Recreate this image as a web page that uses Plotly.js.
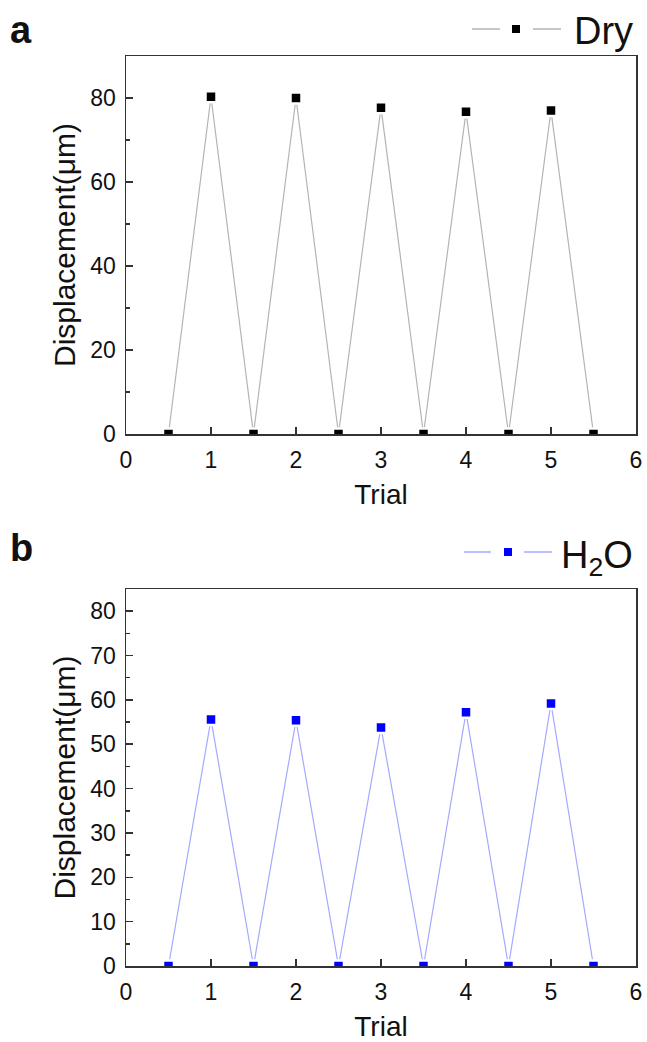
<!DOCTYPE html>
<html>
<head>
<meta charset="utf-8">
<script src="https://cdn.plot.ly/plotly-3.0.1.min.js"></script>
<style>html,body{margin:0;padding:0;background:#fff;}#chart{width:647px;height:1042px;}</style>
</head>
<body>
<div id="chart"></div>
<script>
// ---- data ----
const trialX = [0.5, 1, 1.5, 2, 2.5, 3, 3.5, 4, 4.5, 5, 5.5];
const dryDisp = [0, 80.3, 0, 80.0, 0, 77.7, 0, 76.7, 0, 77.0, 0];
const waterDisp = [0, 55.6, 0, 55.4, 0, 53.8, 0, 57.2, 0, 59.2, 0];
const seriesNames = ["Dry", "H<sub>2</sub>O"];
const panelLabels = ["a", "b"];
const xTitle = "Trial";
const yTitle = "Displacement(\u03bcm)";

// ---- layout helpers ----
const W = 647, H = 1042;
const px = v => v / W;
const py = v => 1 - v / H;
const FONT = '"Liberation Sans", Arial, sans-serif';
const AX = '#333333';

function xAxis(anchor) {
  return {
    domain: [px(126), px(636)], range: [0, 6], dtick: 1, tick0: 0,
    ticks: 'inside', ticklen: 7, tickwidth: 1.5, tickcolor: AX,
    showline: true, linecolor: AX, linewidth: 1.5, mirror: true,
    showgrid: false, zeroline: false, anchor: anchor, fixedrange: true,
    tickfont: {family: FONT, size: 23, color: '#111'},
    ticklabelstandoff: 5,
    title: {text: xTitle, font: {family: FONT, size: 28, color: '#111'}, standoff: 12}
  };
}
function yAxis(dom, maxv, dt, anchor) {
  return {
    domain: dom, range: [0, maxv], dtick: dt, tick0: 0,
    ticks: 'inside', ticklen: 7, tickwidth: 1.5, tickcolor: AX,
    minor: {dtick: dt / 2, ticks: 'inside', ticklen: 4, tickwidth: 1.5, tickcolor: AX, showgrid: false},
    showline: true, linecolor: AX, linewidth: 1.5, mirror: true,
    showgrid: false, zeroline: false, anchor: anchor, fixedrange: true,
    tickfont: {family: FONT, size: 23, color: '#111'},
    ticklabelstandoff: 4,
    title: {text: yTitle, font: {family: FONT, size: 30, color: '#111'}, standoff: 6}
  };
}

const traces = [
  {x: trialX, y: dryDisp, name: seriesNames[0], xaxis: 'x', yaxis: 'y', mode: 'lines+markers',
   line: {color: '#b4b4b4', width: 1.2},
   marker: {symbol: 'square', size: 11, color: '#000', line: {color: '#fff', width: 2.5}}},
  {x: trialX, y: waterDisp, name: seriesNames[1], xaxis: 'x2', yaxis: 'y2', mode: 'lines+markers',
   line: {color: '#a4aaff', width: 1.2},
   marker: {symbol: 'square', size: 11, color: '#0000ff', line: {color: '#fff', width: 2.5}}}
];

function legendShapes(l1a, l1b, mx, l2a, l2b, ly, lineCol, markCol) {
  return [
    {type: 'line', xref: 'paper', yref: 'paper', x0: px(l1a), x1: px(l1b), y0: py(ly), y1: py(ly), line: {color: lineCol, width: 1.5}},
    {type: 'rect', xref: 'paper', yref: 'paper', x0: px(mx - 4), x1: px(mx + 4), y0: py(ly + 4), y1: py(ly - 4), fillcolor: markCol, line: {width: 0}},
    {type: 'line', xref: 'paper', yref: 'paper', x0: px(l2a), x1: px(l2b), y0: py(ly), y1: py(ly), line: {color: lineCol, width: 1.5}}
  ];
}

const shapes = [].concat(
  legendShapes(472, 500, 516, 533, 561, 29, '#b4b4b4', '#000'),
  legendShapes(464, 491, 508, 524, 552, 552, '#a4aaff', '#0000ff')
);

const annotations = [
  {text: seriesNames[0], xref: 'paper', yref: 'paper', x: px(572), y: py(31), xanchor: 'left', yanchor: 'middle', showarrow: false, font: {family: FONT, size: 38, color: '#111'}},
  {text: seriesNames[1], xref: 'paper', yref: 'paper', x: px(559), y: py(558), xanchor: 'left', yanchor: 'middle', showarrow: false, font: {family: FONT, size: 38, color: '#111'}},
  {text: '<b>' + panelLabels[0] + '</b>', xref: 'paper', yref: 'paper', x: px(8), y: py(30), xanchor: 'left', yanchor: 'middle', showarrow: false, font: {family: FONT, size: 38, color: '#111'}},
  {text: '<b>' + panelLabels[1] + '</b>', xref: 'paper', yref: 'paper', x: px(8), y: py(548), xanchor: 'left', yanchor: 'middle', showarrow: false, font: {family: FONT, size: 38, color: '#111'}}
];

const layout = {
  width: W, height: H,
  margin: {l: 0, r: 0, t: 0, b: 0},
  paper_bgcolor: '#fff', plot_bgcolor: '#fff',
  showlegend: false,
  font: {family: FONT, color: '#111'},
  xaxis: xAxis('y'),
  yaxis: yAxis([py(434), py(56)], 90, 20, 'x'),
  xaxis2: xAxis('y2'),
  yaxis2: yAxis([py(966), py(589)], 85, 10, 'x2'),
  shapes: shapes,
  annotations: annotations
};

Plotly.newPlot('chart', traces, layout, {staticPlot: true, displayModeBar: false});
</script>
</body>
</html>
